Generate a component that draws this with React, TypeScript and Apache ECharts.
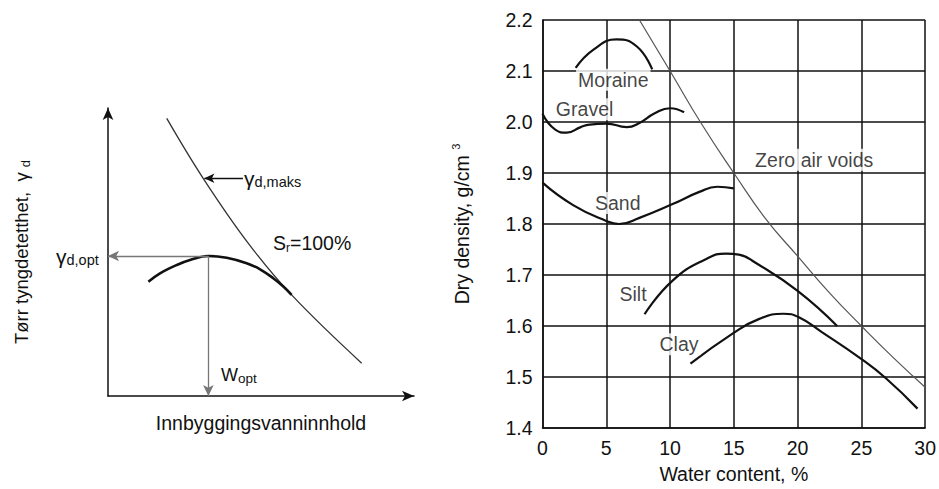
import React, { useEffect, useRef } from "react";
import * as echarts from "echarts";

// ---------- Right chart data (water content %, dry density g/cm3) ----------
const xTicks = [0, 5, 10, 15, 20, 25, 30];
const moraine = [[2.6, 2.106], [4.0, 2.142], [5.8, 2.162], [7.4, 2.148], [8.6, 2.103]];
const gravel = [[0, 2.016], [1.0, 1.985], [1.9, 1.979], [3.0, 1.99], [3.7, 1.995], [5.0, 1.997], [6.6, 1.99], [7.6, 1.998], [8.8, 2.017], [10.0, 2.027], [11.1, 2.019]];
const sand = [[0, 1.881], [2.4, 1.837], [5.0, 1.806], [6.0, 1.8], [7.6, 1.812], [10.2, 1.839], [12.3, 1.863], [13.7, 1.873], [15.0, 1.87]];
const silt = [[8.0, 1.623], [10.2, 1.689], [12.8, 1.731], [14.4, 1.742], [15.4, 1.74], [16.7, 1.724], [20.0, 1.669], [23.1, 1.6]];
const clay = [[11.6, 1.526], [14.9, 1.585], [17.0, 1.614], [18.9, 1.624], [20.1, 1.617], [21.9, 1.588], [24.9, 1.537], [26.9, 1.498], [29.4, 1.438]];
const zeroAirVoids = [[7.6, 2.2], [10, 2.1], [12.5, 1.995], [15, 1.9], [17.5, 1.81], [20, 1.737], [22.5, 1.665], [25, 1.6], [27.5, 1.538], [30, 1.48]];
const labelTexts = ["Moraine", "Gravel", "Sand", "Silt", "Clay", "Zero air voids"];
const labelX = [5.55, 3.3, 5.9, 7.1, 10.7, 21.3];
const labelY = [2.083, 2.025, 1.841, 1.663, 1.564, 1.926];

// ---------- Left schematic data (arbitrary units 0..10) ----------
const saturationLine = [[1.92, 9.64], [3.11, 7.56], [4.58, 5.31], [6.0, 3.51], [8.29, 1.14]];
const compactionCurve = [[1.32, 3.97], [1.7, 4.26], [2.25, 4.55], [2.68, 4.72], [3.28, 4.86], [3.88, 4.8], [4.53, 4.61], [4.97, 4.4], [5.4, 4.09], [5.73, 3.8], [6.0, 3.51]];
const optimum = [3.28, 4.86];
const maksArrow = [[4.41, 7.56], [3.15, 7.56]];

const FONT = "'Liberation Sans', Arial, sans-serif";
const TXT = "#111";
const FS = 19.5;

export default function App() {
  const ref = useRef<HTMLDivElement>(null);
  useEffect(() => {
    if (!ref.current) return;
    const chart = echarts.init(ref.current, undefined, { renderer: "svg" });
    const curve = (data: number[][]) => ({
      type: "line",
      xAxisIndex: 0,
      yAxisIndex: 0,
      data,
      smooth: 0.5,
      symbol: "none",
      lineStyle: { color: "#111", width: 2.2 },
      silent: true,
      z: 3,
    });
    const labelData = labelTexts.map((t, i) => ({ value: [labelX[i], labelY[i]], name: t }));
    const option: any = {
      animation: false,
      backgroundColor: "#fff",
      textStyle: { fontFamily: FONT },
      grid: [
        { left: 542.5, top: 20, width: 384, height: 412, show: false },
        { left: 108, top: 108, width: 306, height: 288, show: false },
      ],
      xAxis: [
        {
          type: "value",
          gridIndex: 0,
          min: 0,
          max: 30,
          interval: 5,
          name: "Water content, %",
          nameLocation: "middle",
          nameGap: 36,
          nameTextStyle: { fontSize: FS, color: TXT, fontFamily: FONT },
          axisLine: { show: true, lineStyle: { color: "#111", width: 1.5 } },
          axisTick: { show: false },
          axisLabel: { fontSize: FS, color: TXT, margin: 10, fontFamily: FONT, formatter: (v: number) => (xTicks.includes(v) ? String(v) : "") },
          splitLine: { show: true, lineStyle: { color: "#111", width: 1.5 } },
        },
        {
          type: "value",
          gridIndex: 1,
          min: 0,
          max: 10,
          name: "Innbyggingsvanninnhold",
          nameLocation: "middle",
          nameGap: 17,
          nameTextStyle: { fontSize: FS, color: TXT, fontFamily: FONT },
          axisLine: { show: true, symbol: ["none", "arrow"], symbolSize: [8, 12], lineStyle: { color: "#111", width: 1.5 } },
          axisTick: { show: false },
          axisLabel: { show: false },
          splitLine: { show: false },
        },
      ],
      yAxis: [
        {
          type: "value",
          gridIndex: 0,
          min: 1.4,
          max: 2.2,
          interval: 0.1,
          name: "{m|Dry density, g/cm }{p|3}",
          nameLocation: "middle",
          nameGap: 70,
          nameTextStyle: {
            color: TXT,
            fontFamily: FONT,
            rich: {
              m: { fontSize: FS, color: TXT, fontFamily: FONT, lineHeight: 22 },
              p: { fontSize: 11, color: TXT, fontFamily: FONT, verticalAlign: "top", lineHeight: 22 },
            },
          },
          axisLine: { show: true, lineStyle: { color: "#111", width: 1.5 } },
          axisTick: { show: false },
          axisLabel: { fontSize: FS, color: TXT, margin: 10, fontFamily: FONT, formatter: (v: number) => v.toFixed(1) },
          splitLine: { show: true, lineStyle: { color: "#111", width: 1.5 } },
        },
        {
          type: "value",
          gridIndex: 1,
          min: 0,
          max: 10,
          name: "{m|Tørr tyngdetetthet,  γ }{s|d}",
          nameLocation: "middle",
          nameGap: 76,
          nameTextStyle: {
            color: TXT,
            fontFamily: FONT,
            rich: {
              m: { fontSize: 18.5, color: TXT, fontFamily: FONT, lineHeight: 22 },
              s: { fontSize: 13, color: TXT, fontFamily: FONT, verticalAlign: "bottom", lineHeight: 22 },
            },
          },
          axisLine: { show: true, symbol: ["none", "arrow"], symbolSize: [8, 12], lineStyle: { color: "#111", width: 1.5 } },
          axisTick: { show: false },
          axisLabel: { show: false },
          splitLine: { show: false },
        },
      ],
      series: [
        { ...curve(zeroAirVoids), lineStyle: { color: "#555", width: 1.2 }, smooth: 0.5, z: 2 },
        curve(moraine),
        curve(gravel),
        curve(sand),
        curve(silt),
        curve(clay),
        {
          type: "scatter",
          xAxisIndex: 0,
          yAxisIndex: 0,
          data: labelData,
          symbolSize: 1,
          itemStyle: { color: "rgba(0,0,0,0)" },
          silent: true,
          z: 5,
          label: {
            show: true,
            position: "inside",
            formatter: (p: any) => p.name,
            fontSize: FS,
            color: TXT,
            fontFamily: FONT,
            backgroundColor: "#fff",
            padding: [1, 2],
          },
        },
        // left schematic
        {
          type: "line",
          xAxisIndex: 1,
          yAxisIndex: 1,
          data: saturationLine,
          smooth: 0.4,
          symbol: "none",
          silent: true,
          lineStyle: { color: "#333", width: 1.3 },
          markLine: {
            silent: true,
            symbol: ["none", "arrow"],
            symbolSize: [7, 10],
            label: { show: false },
            lineStyle: { color: "#111", width: 1.3, type: "solid" },
            data: [[{ coord: maksArrow[0] }, { coord: maksArrow[1] }]],
          },
        },
        {
          type: "line",
          xAxisIndex: 1,
          yAxisIndex: 1,
          data: compactionCurve,
          smooth: 0.4,
          symbol: "none",
          silent: true,
          z: 4,
          lineStyle: { color: "#111", width: 2.6 },
          markLine: {
            silent: true,
            symbol: ["none", "arrow"],
            symbolSize: [8, 11],
            label: { show: false },
            lineStyle: { color: "#777", width: 1.3, type: "solid" },
            data: [
              [{ coord: optimum }, { coord: [0, optimum[1]] }],
              [{ coord: optimum }, { coord: [optimum[0], 0] }],
            ],
          },
        },
      ],
      graphic: [
        {
          type: "text",
          left: 244,
          top: 168,
          style: {
            text: "{g|γ}{s|d,maks}",
            rich: {
              g: { fontSize: 21, fill: TXT, fontFamily: FONT, lineHeight: 22 },
              s: { fontSize: 14.5, fill: TXT, fontFamily: FONT, verticalAlign: "bottom", lineHeight: 18 },
            },
          },
        },
        {
          type: "text",
          left: 273,
          top: 233,
          style: {
            text: "{m|S}{s|r}{m|=100%}",
            rich: {
              m: { fontSize: FS, fill: TXT, fontFamily: FONT, lineHeight: 22 },
              s: { fontSize: 12, fill: TXT, fontFamily: FONT, verticalAlign: "bottom", lineHeight: 16 },
            },
          },
        },
        {
          type: "text",
          left: 56,
          top: 246,
          style: {
            text: "{g|γ}{s|d,opt}",
            rich: {
              g: { fontSize: 21, fill: TXT, fontFamily: FONT, lineHeight: 22 },
              s: { fontSize: 14.5, fill: TXT, fontFamily: FONT, verticalAlign: "bottom", lineHeight: 18 },
            },
          },
        },
        {
          type: "text",
          left: 221,
          top: 366,
          style: {
            text: "{m|W}{s|opt}",
            rich: {
              m: { fontSize: 18, fill: TXT, fontFamily: FONT, lineHeight: 20 },
              s: { fontSize: 13.5, fill: TXT, fontFamily: FONT, verticalAlign: "bottom", lineHeight: 16 },
            },
          },
        },
      ],
    };
    chart.setOption(option);
    return () => chart.dispose();
  }, []);
  return (
    <div
      ref={ref}
      style={{ position: "fixed", left: 0, top: 0, width: 939, height: 489, background: "#fff" }}
    />
  );
}
